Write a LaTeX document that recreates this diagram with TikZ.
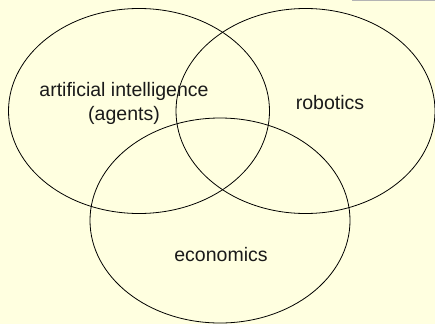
\documentclass[tikz,border=0pt]{standalone}
\usepackage{fontspec}
\setmainfont{Liberation Sans}
\usetikzlibrary{shapes.geometric}
\definecolor{bgyellow}{HTML}{FFFFE0}
\definecolor{bargray}{HTML}{B4B4B4}
\definecolor{txt}{HTML}{1A1A1A}
\begin{document}
\begin{tikzpicture}[x=1pt,y=-1pt,
  setellipse/.style={draw=black, line width=0.8pt, ellipse, inner sep=0pt, minimum width=#1},
  lbl/.style={font=\fontsize{19.5}{24}\selectfont, text=txt, align=center, inner sep=0pt}]
\fill[bgyellow] (0,0) rectangle (435,324);
\useasboundingbox (0,0) rectangle (435,324);
\fill[bargray] (352,0) rectangle (435,1.3);
\node[setellipse=261pt, minimum height=205pt] (ai) at (139,111) {};
\node[setellipse=259pt, minimum height=205pt] (rob) at (305.5,111) {};
\node[setellipse=260pt, minimum height=205pt] (eco) at (220,220.5) {};
\node[lbl] (ailbl) at (124,103) {artificial intelligence\\(agents)};
\node[lbl] (roblbl) at (330,102.5) {robotics};
\node[lbl] (ecolbl) at (221,255) {economics};
\end{tikzpicture}
\end{document}
